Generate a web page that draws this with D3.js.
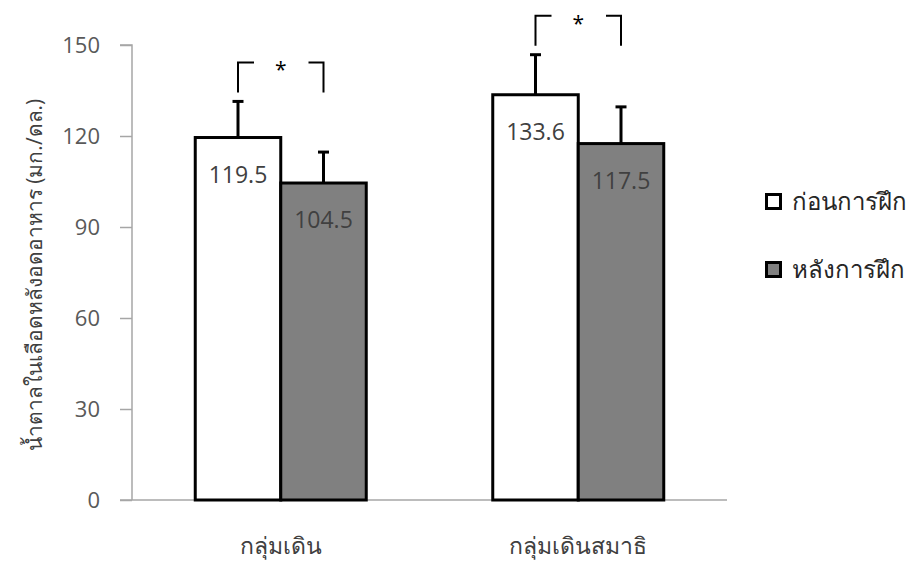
<!DOCTYPE html>
<html>
<head>
<meta charset="utf-8">
<script src="https://cdn.jsdelivr.net/npm/d3@7/dist/d3.min.js"></script>
<style>
  html, body { margin: 0; padding: 0; background: #fff; }
  text { font-family: "Open Sans", "Noto Sans", "DejaVu Sans", sans-serif; }
</style>
</head>
<body>
<svg id="chart" width="908" height="566"></svg>
<script>
// Fasting blood sugar before / after training, two groups
const groups = ["กลุ่มเดิน", "กลุ่มเดินสมาธิ"];
const seriesNames = ["ก่อนการฝึก", "หลังการฝึก"];
const beforeValues = [119.5, 133.6];
const afterValues = [104.5, 117.5];
const beforeSD = [11.9, 13.2];
const afterSD = [10.2, 12.1];
const yTicks = [0, 30, 60, 90, 120, 150];
const yTitle = "น้ำตาลในเลือดหลังอดอาหาร (มก./ดล.)";
const sigMarks = ["*", "*"];

const seriesFill = ["#ffffff", "#808080"];

const svg = d3.select("#chart");
const margin = { left: 132, right: 181, top: 45, bottom: 66 };
const W = 908, H = 566;

const y = d3.scaleLinear().domain([0, 150]).range([H - margin.bottom, margin.top]);
const x0 = d3.scaleBand().domain(groups).range([margin.left, W - margin.right]).padding(0);
const groupWidth = 171;
const x1 = d3.scaleBand().domain(seriesNames).range([0, groupWidth]).padding(0);
const groupStart = g => x0(g) + (x0.bandwidth() - groupWidth) / 2;

const rows = groups.map((g, i) => ({
  group: g,
  items: [
    { name: seriesNames[0], value: beforeValues[i], sd: beforeSD[i] },
    { name: seriesNames[1], value: afterValues[i], sd: afterSD[i] }
  ]
}));

// Y axis
const yAxis = d3.axisLeft(y).tickValues(yTicks).tickSize(12).tickPadding(20);
const gy = svg.append("g").attr("transform", `translate(${margin.left},0)`).call(yAxis);
gy.select(".domain").attr("stroke", "#a6a6a6").attr("stroke-width", 1.5).attr("d", `M-12,${y(150)}H0V${y(0)}`);
gy.selectAll(".tick line").attr("stroke", "#a6a6a6").attr("stroke-width", 1.5);
gy.selectAll(".tick text").attr("fill", "#595959").style("font-size", "22px");

// X axis line
svg.append("line")
  .attr("x1", margin.left - 12).attr("x2", W - margin.right)
  .attr("y1", y(0)).attr("y2", y(0))
  .attr("stroke", "#a6a6a6").attr("stroke-width", 1.5);

// Bars
const gGroups = svg.selectAll(".grp").data(rows).join("g")
  .attr("class", "grp")
  .attr("transform", d => `translate(${groupStart(d.group)},0)`);

gGroups.selectAll("rect.bar").data(d => d.items).join("rect")
  .attr("class", "bar")
  .attr("x", d => x1(d.name))
  .attr("width", x1.bandwidth())
  .attr("y", d => y(d.value))
  .attr("height", d => y(0) - y(d.value))
  .attr("fill", (d, i) => seriesFill[i])
  .attr("stroke", "#000")
  .attr("stroke-width", 3);

// Error bars (upper only)
gGroups.selectAll("g.err").data(d => d.items).join("g")
  .attr("class", "err")
  .each(function(d) {
    const cx = x1(d.name) + x1.bandwidth() / 2;
    const g = d3.select(this);
    g.append("line")
      .attr("x1", cx).attr("x2", cx)
      .attr("y1", y(d.value)).attr("y2", y(d.value + d.sd))
      .attr("stroke", "#000").attr("stroke-width", 3);
    g.append("line")
      .attr("x1", cx - 5.5).attr("x2", cx + 5.5)
      .attr("y1", y(d.value + d.sd)).attr("y2", y(d.value + d.sd))
      .attr("stroke", "#000").attr("stroke-width", 3);
  });

// Value labels inside bars
gGroups.selectAll("text.val").data(d => d.items).join("text")
  .attr("class", "val")
  .attr("x", d => x1(d.name) + x1.bandwidth() / 2)
  .attr("y", d => y(d.value) + 45)
  .attr("text-anchor", "middle")
  .attr("fill", "#404040")
  .style("font-size", "23px")
  .text(d => d.value.toFixed(1));

// Significance brackets
gGroups.each(function(d, i) {
  const g = d3.select(this);
  const xa = x1(seriesNames[0]) + x1.bandwidth() / 2;
  const xb = x1(seriesNames[1]) + x1.bandwidth() / 2;
  const topY = y(d.items[0].value + d.items[0].sd) - 39;
  const botY = topY + 30;
  const mid = (xa + xb) / 2;
  const path = `M${xa},${botY}V${topY}H${xa + 16}M${xb - 15},${topY}H${xb}V${botY}`;
  g.append("path").attr("d", path).attr("fill", "none")
    .attr("stroke", "#000").attr("stroke-width", 2);
  g.append("text")
    .attr("x", mid).attr("y", topY + 15)
    .attr("text-anchor", "middle")
    .attr("fill", "#000")
    .style("font-size", "21px")
    .text(sigMarks[i]);
});

// X category labels
svg.selectAll("text.cat").data(groups).join("text")
  .attr("class", "cat")
  .attr("x", g => x0(g) + x0.bandwidth() / 2)
  .attr("y", 554)
  .attr("text-anchor", "middle")
  .attr("fill", "#404040")
  .style("font-size", "23px")
  .text(g => g);

// Y title
svg.append("text")
  .attr("transform", `translate(42,${275}) rotate(-90)`)
  .attr("text-anchor", "middle")
  .attr("fill", "#404040")
  .style("font-size", "21px")
  .text(yTitle);

// Legend
const legend = svg.selectAll("g.leg").data(seriesNames).join("g")
  .attr("class", "leg")
  .attr("transform", (d, i) => `translate(765,${193 + i * 68})`);
legend.append("rect")
  .attr("x", 1.5).attr("y", 1.5).attr("width", 14).attr("height", 14)
  .attr("fill", (d, i) => seriesFill[i])
  .attr("stroke", "#000").attr("stroke-width", 3);
legend.append("text")
  .attr("x", 27).attr("y", 17)
  .attr("fill", "#262626")
  .style("font-size", "24px")
  .text(d => d);
</script>
</body>
</html>
